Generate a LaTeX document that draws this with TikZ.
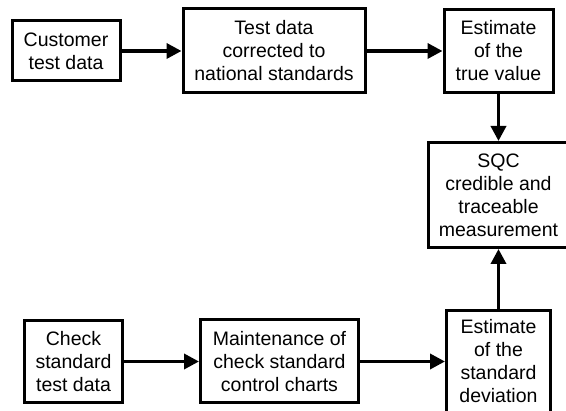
\documentclass[tikz,border=0pt]{standalone}
\usepackage{fontspec}
\setmainfont{Liberation Sans}
\usetikzlibrary{positioning, arrows.meta}

\begin{document}
\begin{tikzpicture}[auto, node distance=60pt, >={Triangle[length=15pt,width=15pt]},
	block/.style={draw, rectangle, line width=3pt, align=center, inner sep=2pt, font=\fontsize{19.5}{23}\selectfont},
	link/.style={->, line width=3.5pt}]
	\useasboundingbox (0,0) rectangle (566pt,411pt);
	
	% Define nodes
	\node [block, minimum width=108pt, minimum height=60pt] (customer) at (66pt,360pt) {Customer \\ test data};
	\node [block, right=60pt of customer, minimum width=182pt, minimum height=84pt] (corrected) {Test data \\ corrected to \\ national standards};
	\node [block, right=76pt of corrected, minimum width=109pt, minimum height=83pt] (truevalue) {Estimate \\ of the \\ true value};
	\node [block, below=47pt of truevalue, minimum width=140pt, minimum height=105pt] (sqc) {SQC \\ credible and \\ traceable \\ measurement};
	\node [block, below=60pt of sqc, minimum width=104pt, minimum height=102pt] (stddev) {Estimate \\ of the \\ standard \\ deviation};
	\node [block, left=85pt of stddev, minimum width=158pt, minimum height=83pt] (charts) {Maintenance of \\ check standard \\ control charts};
	\node [block, left=75pt of charts, minimum width=98pt, minimum height=82pt] (checkdata) {Check \\ standard \\ test data};
	
	% Arrows between blocks
	\draw[link] (customer) -- (corrected);
	\draw[link] (corrected) -- (truevalue);
	\draw[link] (truevalue) -- (sqc);
	\draw[link] (checkdata) -- (charts);
	\draw[link] (charts) -- (stddev);
	\draw[link] (stddev) -- (sqc);
\end{tikzpicture}
\end{document}
